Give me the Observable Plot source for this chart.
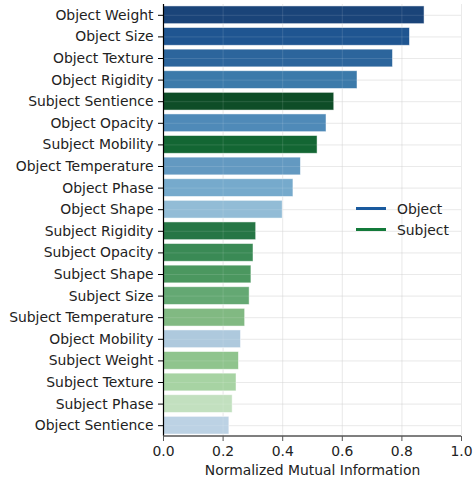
<!DOCTYPE html>
<html>
<head>
<meta charset="utf-8">
<script src="https://cdn.jsdelivr.net/npm/d3@7"></script>
<script src="https://cdn.jsdelivr.net/npm/@observablehq/plot@0.6"></script>
<style>
  html, body { margin: 0; padding: 0; background: #fff; }
  #wrap { position: relative; width: 473px; height: 480px; font-family: "DejaVu Sans", sans-serif; }
  .leg { position: absolute; left: 356px; font-size: 13.9px; color: #222; }
  .leg .ln { position: absolute; left: 0; width: 30px; height: 2.6px; }
  .leg .tx { position: absolute; left: 41px; top: -9px; white-space: nowrap; line-height: 18px; }
</style>
</head>
<body>
<div id="wrap"></div>
<script>
const features = [
  "Object Weight", "Object Size", "Object Texture", "Object Rigidity", "Subject Sentience",
  "Object Opacity", "Subject Mobility", "Object Temperature", "Object Phase", "Object Shape",
  "Subject Rigidity", "Subject Opacity", "Subject Shape", "Subject Size", "Subject Temperature",
  "Object Mobility", "Subject Weight", "Subject Texture", "Subject Phase", "Object Sentience"
];
const nmi = [
  0.876, 0.827, 0.770, 0.651, 0.573,
  0.547, 0.517, 0.461, 0.436, 0.400,
  0.311, 0.302, 0.295, 0.289, 0.274,
  0.260, 0.253, 0.245, 0.232, 0.221
];
const groups = features.map(f => f.split(" ")[0]);
const barColors = [
  "#1a4479", "#1f5591", "#2c659c", "#3c7aaa", "#0e4d27",
  "#4f8ab8", "#136633", "#6399c1", "#76aacc", "#92bcd6",
  "#267645", "#3a8a55", "#4b975f", "#64a873", "#81b982",
  "#aec9dd", "#8fc48d", "#a7d3a3", "#c2e0bf", "#bcd2e4"
];
const legendLabels = ["Object", "Subject"];
const legendColors = ["#1a5a9e", "#137a3a"];
const xTicks = [0, 0.2, 0.4, 0.6, 0.8, 1.0];

const data = features.map((f, i) => ({feature: f, value: nmi[i], group: groups[i], color: barColors[i]}));

const chart = Plot.plot({
  width: 473,
  height: 480,
  marginLeft: 163,
  marginRight: 12,
  marginTop: 4,
  marginBottom: 44,
  style: {fontFamily: "DejaVu Sans, sans-serif", fontSize: "13.9px", color: "#222", background: "#fff"},
  x: {domain: [0, 1]},
  y: {domain: features, paddingInner: 0.18, paddingOuter: 0.09, round: false},
  marks: [
    Plot.gridX(xTicks, {stroke: "#b0b0b0", strokeOpacity: 0.3, strokeWidth: 1}),
    Plot.gridY(features, {stroke: "#b0b0b0", strokeOpacity: 0.3, strokeWidth: 1}),
    Plot.barX(data, {x: "value", y: "feature", fill: "color", fillOpacity: 1, stroke: "white", strokeOpacity: 0.6, strokeWidth: 0.8}),
    Plot.gridX(xTicks, {stroke: "#ffffff", strokeOpacity: 0.12, strokeWidth: 1}),
    Plot.gridY(features, {stroke: "#ffffff", strokeOpacity: 0.12, strokeWidth: 1}),
    Plot.axisY({tickSize: 5, tickPadding: 5, label: null, fontSize: "13.9px", stroke: "#000"}),
    Plot.axisX(xTicks, {tickSize: 5, tickPadding: 5, tickFormat: d3.format(".1f"), label: null, fontSize: "13.9px", stroke: "#555"}),
    Plot.ruleX([0], {stroke: "#000", strokeWidth: 1.2}),
    Plot.text(["Normalized Mutual Information"], {frameAnchor: "bottom", dy: 38, fontSize: 13.9, fill: "#222"})
  ]
});

const wrap = document.getElementById("wrap");
wrap.appendChild(chart);

// bottom spine
const svg = d3.select(chart);
svg.append("line")
  .attr("x1", 163).attr("x2", 461).attr("y1", 436).attr("y2", 436)
  .attr("stroke", "#555").attr("stroke-width", 1.3);

const legendTops = [208.5, 229.5];
legendLabels.forEach((lab, i) => {
  const d = document.createElement("div");
  d.className = "leg";
  d.style.top = legendTops[i] + "px";
  d.innerHTML = `<div class="ln" style="background:${legendColors[i]};top:-1.3px"></div><div class="tx">${lab}</div>`;
  wrap.appendChild(d);
});
</script>
</body>
</html>
